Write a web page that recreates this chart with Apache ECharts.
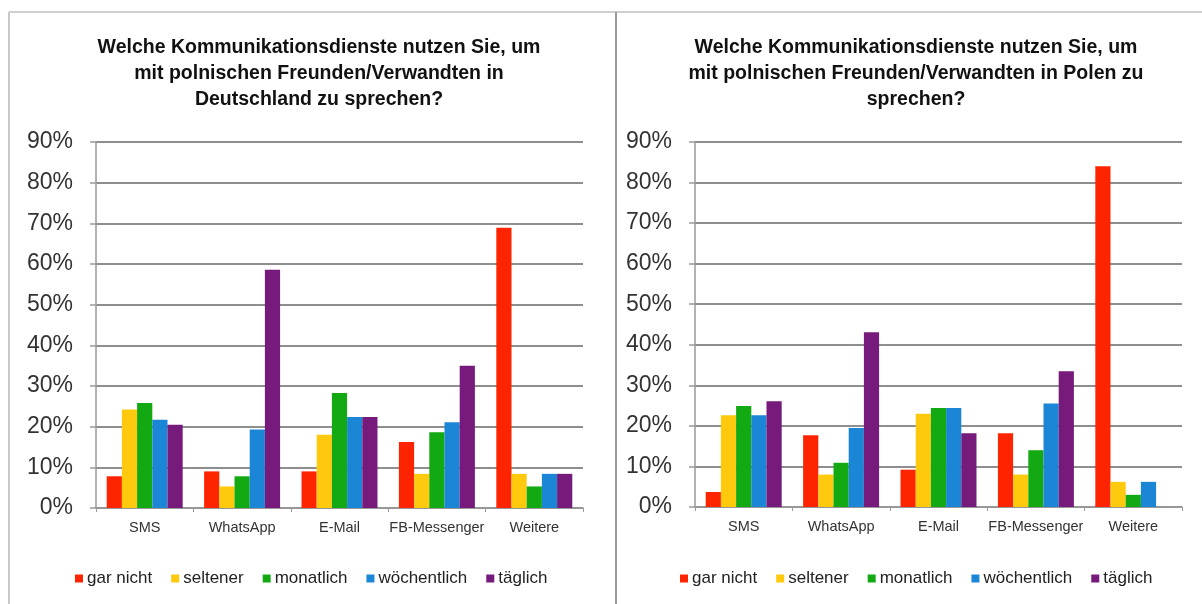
<!DOCTYPE html>
<html>
<head>
<meta charset="utf-8">
<script src="https://cdn.jsdelivr.net/npm/echarts@6/dist/echarts.min.js"></script>
<style>
html,body{margin:0;padding:0;background:#fff;}
#c{width:1202px;height:604px;}
</style>
</head>
<body>
<div id="c"></div>
<script>
const categories = ['SMS', 'WhatsApp', 'E-Mail', 'FB-Messenger', 'Weitere'];
const seriesNames = ['gar nicht', 'seltener', 'monatlich', 'wöchentlich', 'täglich'];
const colors = ['#ff2400', '#ffc90e', '#12a912', '#1c86d6', '#761a7c'];
const yTicks = [0, 10, 20, 30, 40, 50, 60, 70, 80, 90];
const titleLeft = 'Welche Kommunikationsdienste nutzen Sie, um\nmit polnischen Freunden/Verwandten in\nDeutschland zu sprechen?';
const titleRight = 'Welche Kommunikationsdienste nutzen Sie, um\nmit polnischen Freunden/Verwandten in Polen zu\nsprechen?';

// Left chart (Deutschland), per series across categories
const deGarNicht   = [7.8, 9.0, 9.0, 16.2, 68.9];
const deSeltener   = [24.2, 5.3, 18.0, 8.4, 8.4];
const deMonatlich  = [25.8, 7.8, 28.3, 18.6, 5.3];
const deWoechentl  = [21.7, 19.3, 22.4, 21.1, 8.4];
const deTaeglich   = [20.5, 58.6, 22.4, 35.0, 8.4];

// Right chart (Polen)
const plGarNicht   = [3.7, 17.7, 9.2, 18.2, 84.0];
const plSeltener   = [22.6, 8.0, 23.0, 8.0, 6.2];
const plMonatlich  = [24.9, 10.9, 24.4, 14.0, 3.0];
const plWoechentl  = [22.6, 19.5, 24.4, 25.5, 6.2];
const plTaeglich   = [26.1, 43.1, 18.2, 33.5, 0];

const deData = [deGarNicht, deSeltener, deMonatlich, deWoechentl, deTaeglich];
const plData = [plGarNicht, plSeltener, plMonatlich, plWoechentl, plTaeglich];

const font = '"Liberation Sans", Arial, sans-serif';
const gridColor = '#8e8e8e';

function xAxisCfg(gi) {
  return {
    type: 'category', gridIndex: gi, data: categories,
    axisLine: { lineStyle: { color: '#9a9a9a', width: 1.5 } },
    axisTick: { show: true, length: 4, interval: 0, lineStyle: { color: '#9a9a9a' } },
    axisLabel: { color: '#333', fontSize: 14.5, fontFamily: font, margin: 12, interval: 0 }
  };
}
function yAxisCfg(gi) {
  return {
    type: 'value', gridIndex: gi, min: yTicks[0], max: yTicks[yTicks.length - 1], interval: 10,
    axisLine: { show: true, lineStyle: { color: '#9a9a9a', width: 1.5 } },
    axisTick: { show: true, length: 6, lineStyle: { color: '#9a9a9a', width: 1.5 } },
    splitLine: { show: true, lineStyle: { color: gridColor, width: 2 } },
    axisLabel: { color: '#333', fontSize: 23, fontFamily: font, margin: 23, formatter: '{value}%' }
  };
}

const series = [];
[deData, plData].forEach((set, gi) => {
  set.forEach((vals, i) => {
    series.push({
      name: seriesNames[i], type: 'bar', xAxisIndex: gi, yAxisIndex: gi,
      data: vals, barGap: '0%', barCategoryGap: '22%',
      itemStyle: { color: colors[i] }
    });
  });
});

const legendCfg = (left) => ({
  data: seriesNames, left: left, top: 565, icon: 'rect',
  itemWidth: 8, itemHeight: 8, itemGap: 19,
  textStyle: { color: '#222', fontSize: 17, fontFamily: font, padding: [0, 0, 0, -1] }
});

const chart = echarts.init(document.getElementById('c'), null, { renderer: 'canvas' });
chart.setOption({
  animation: false,
  backgroundColor: '#fff',
  color: colors,
  title: [
    { text: titleLeft, left: 314, top: 30, textAlign: 'center',
      textStyle: { fontSize: 19.5, fontWeight: 'bold', color: '#111', fontFamily: font, lineHeight: 26 } },
    { text: titleRight, left: 911, top: 30, textAlign: 'center',
      textStyle: { fontSize: 19.5, fontWeight: 'bold', color: '#111', fontFamily: font, lineHeight: 26 } }
  ],
  legend: [legendCfg(70), legendCfg(675)],
  grid: [
    { left: 96, top: 142, width: 487, height: 366 },
    { left: 695, top: 142, width: 487, height: 365 }
  ],
  xAxis: [xAxisCfg(0), xAxisCfg(1)],
  yAxis: [yAxisCfg(0), yAxisCfg(1)],
  series: series,
  graphic: [
    { type: 'line', shape: { x1: 9, y1: 12, x2: 1202, y2: 12 }, style: { stroke: '#d0d0d0', lineWidth: 2 } },
    { type: 'line', shape: { x1: 9, y1: 12, x2: 9, y2: 604 }, style: { stroke: '#c8c8c8', lineWidth: 2 } },
    { type: 'line', shape: { x1: 616, y1: 12, x2: 616, y2: 604 }, style: { stroke: '#9a9a9a', lineWidth: 2 } }
  ]
});
</script>
</body>
</html>
